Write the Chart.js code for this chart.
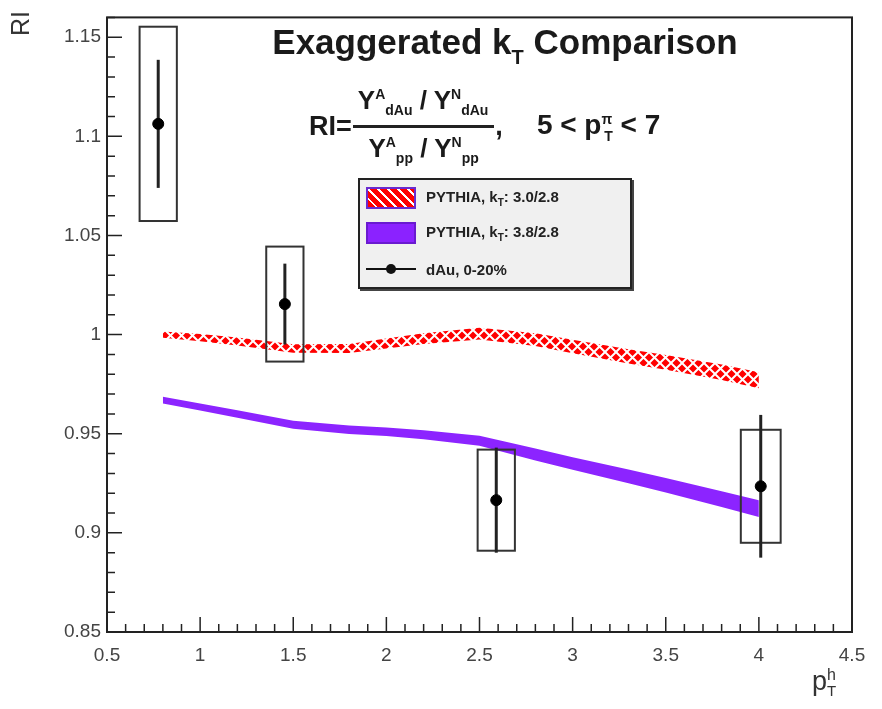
<!DOCTYPE html>
<html lang="en">

<head>
    <meta charset="UTF-8">
    <title>Exaggerated kT Comparison</title>
    <script src="https://cdn.jsdelivr.net/npm/chart.js"></script>
    <style>
        body { margin: 0; background: #fff; }
        #wrap { position: relative; width: 882px; height: 709px; font-family: "Liberation Sans", Arial, sans-serif; color: #111; }
        #myChart { position: absolute; left: 0; top: 0; }
        .txt { position: absolute; white-space: nowrap; }
        #title { left: 505px; top: 22px; transform: translateX(-50%); font-weight: bold; font-size: 35px; color: #1a1a1a; }
        #title sub { font-size: 20px; vertical-align: -10px; }
        #formula { left: 309px; top: 80px; font-weight: bold; font-size: 27px; display: flex; align-items: center; color: #1a1a1a; }
        .frac { display: inline-flex; flex-direction: column; align-items: center; margin: 0 1px; }
        .frac .num { border-bottom: 3px solid #222; padding: 0 6px 0 5px; }
        .frac span { font-size: 26px; line-height: 29px; }
        .frac sup, .frac sub, #formula sup, #formula sub { font-size: 14px; }
        #range { margin-left: 34px; font-size: 28px; }
        #legend { left: 358px; top: 178px; width: 270px; height: 107px; background: #f0f0f0; border: 2px solid #222; box-shadow: 2px 2px 0 #444; }
        .row { position: absolute; left: 6px; display: flex; align-items: center; font-size: 15px; font-weight: bold; color: #222; }
        .row sub { font-size: 10px; }
        .sym { width: 50px; height: 22px; margin-right: 10px; box-sizing: border-box; flex: none; }
        #symRed { background-color: #fff; background-image: repeating-linear-gradient(45deg, #f00 0 5px, #fff 5px 7px), repeating-linear-gradient(-45deg, rgba(255,0,0,0.7) 0 5px, transparent 5px 7px); border: 2px solid #6a2bd0; }
        #symPur { background: #8b22ff; border: 2px solid #6a1ad0; }
        #symPt { position: relative; height: 22px; }
        #symPt::before { content: ""; position: absolute; left: 0; right: 0; top: 10px; height: 2px; background: #111; }
        #symPt::after { content: ""; position: absolute; left: 20px; top: 6px; width: 10px; height: 10px; border-radius: 50%; background: #111; }
        #ytitle { left: 6px; top: 36px; transform: rotate(-90deg); transform-origin: left top; font-size: 25px; color: #333; }
        #xtitle { left: 812px; top: 666px; font-size: 27px; color: #333; }
        #xtitle sup { font-size: 16px; }
        #xtitle sub { font-size: 15px; }
    </style>
</head>

<body>
    <div id="wrap">
        <canvas id="myChart" width="882" height="709"></canvas>
        <div class="txt" id="title">Exaggerated k<sub>T</sub> Comparison</div>
        <div class="txt" id="formula">
            <span>RI=</span>
            <span class="frac">
                <span class="num">Y<sup>A</sup><sub>dAu</sub> / Y<sup>N</sup><sub>dAu</sub></span>
                <span>Y<sup>A</sup><sub>pp</sub> / Y<sup>N</sup><sub>pp</sub></span>
            </span>
            <span>,</span>
            <span id="range">5 &lt; p<sup>&pi;</sup><sub style="margin-left:-8px">T</sub> &lt; 7</span>
        </div>
        <div class="txt" id="legend">
            <div class="row" style="top:7px"><div class="sym" id="symRed"></div><span>PYTHIA, k<sub>T</sub>: 3.0/2.8</span></div>
            <div class="row" style="top:42px"><div class="sym" id="symPur"></div><span>PYTHIA, k<sub>T</sub>: 3.8/2.8</span></div>
            <div class="row" style="top:78px"><div class="sym" id="symPt"></div><span>dAu, 0-20%</span></div>
        </div>
        <div class="txt" id="ytitle">RI</div>
        <div class="txt" id="xtitle">p<sup>h</sup><sub style="margin-left:-9px">T</sub></div>
    </div>

    <script>
        // tick labels
        const xTicks = [0.5, 1, 1.5, 2, 2.5, 3, 3.5, 4, 4.5];
        const yTicks = [0.85, 0.9, 0.95, 1, 1.05, 1.1, 1.15];

        // PYTHIA bands (center and half width)
        const bandX = [0.8, 1.0, 1.2, 1.5, 1.8, 2.0, 2.2, 2.5, 2.8, 3.0, 3.3, 3.5, 3.8, 4.0];
        const redMid = [1.000, 0.9985, 0.9965, 0.993, 0.993, 0.9955, 0.998, 1.0005, 0.9975, 0.994, 0.989, 0.986, 0.981, 0.977];
        const redHalf = [0.0016, 0.0018, 0.002, 0.0021, 0.0023, 0.0025, 0.0027, 0.003, 0.0032, 0.0034, 0.0036, 0.0037, 0.0039, 0.004];
        const purMid = [0.967, 0.9635, 0.960, 0.9545, 0.952, 0.951, 0.9495, 0.9465, 0.9395, 0.935, 0.9285, 0.924, 0.917, 0.9122];
        const purHalf = [0.0017, 0.0018, 0.0019, 0.002, 0.0021, 0.0022, 0.0023, 0.0025, 0.003, 0.0032, 0.0035, 0.0037, 0.004, 0.0042];

        // dAu 0-20% points
        const ptX = [0.775, 1.455, 2.59, 4.01];
        const ptY = [1.1063, 1.0154, 0.9165, 0.9235];
        const statErr = [0.0323, 0.0204, 0.0265, 0.036];
        const sysErr = [0.049, 0.029, 0.0255, 0.0285];
        const sysDx = [0.1, 0.1, 0.1, 0.107];

        function makePattern() {
            const c = document.createElement('canvas');
            c.width = 11; c.height = 11;
            const g = c.getContext('2d');
            g.fillStyle = '#ff0000';
            g.fillRect(0, 0, 11, 11);
            g.strokeStyle = '#ffffff';
            g.lineWidth = 2;
            g.beginPath();
            g.moveTo(-1, -1); g.lineTo(12, 12);
            g.moveTo(12, -1); g.lineTo(-1, 12);
            g.stroke();
            return g.createPattern(c, 'repeat');
        }

        const pts = (xs, ys) => xs.map((x, i) => ({ x: x, y: ys[i] }));
        const redLo = pts(bandX, redMid.map((v, i) => v - redHalf[i]));
        const redHi = pts(bandX, redMid.map((v, i) => v + redHalf[i]));
        const purLo = pts(bandX, purMid.map((v, i) => v - purHalf[i]));
        const purHi = pts(bandX, purMid.map((v, i) => v + purHalf[i]));
        const fmt = v => String(+v.toFixed(2));

        // boxes + error bars under the markers, then ROOT-like frame with inside ticks
        const rootPlugin = {
            id: 'rootStyle',
            beforeDatasetDraw(chart, args) {
                if (args.index !== 0) return;
                const ctx = chart.ctx, x = chart.scales.x, y = chart.scales.y;
                ctx.save();
                ctx.strokeStyle = '#333';
                ctx.lineWidth = 2;
                for (let i = 0; i < ptX.length; i++) {
                    const l = x.getPixelForValue(ptX[i] - sysDx[i]);
                    const r = x.getPixelForValue(ptX[i] + sysDx[i]);
                    const t = y.getPixelForValue(ptY[i] + sysErr[i]);
                    const b = y.getPixelForValue(ptY[i] - sysErr[i]);
                    ctx.strokeRect(l, t, r - l, b - t);
                }
                ctx.strokeStyle = '#222';
                ctx.lineWidth = 3;
                for (let i = 0; i < ptX.length; i++) {
                    const px = x.getPixelForValue(ptX[i]);
                    ctx.beginPath();
                    ctx.moveTo(px, y.getPixelForValue(ptY[i] + statErr[i]));
                    ctx.lineTo(px, y.getPixelForValue(ptY[i] - statErr[i]));
                    ctx.stroke();
                }
                ctx.restore();
            },
            afterDraw(chart) {
                const ctx = chart.ctx, a = chart.chartArea, x = chart.scales.x, y = chart.scales.y;
                ctx.save();
                ctx.strokeStyle = '#222';
                ctx.lineWidth = 2;
                ctx.strokeRect(a.left, a.top, a.right - a.left, a.bottom - a.top);
                ctx.lineWidth = 1.5;
                ctx.beginPath();
                for (let v = 5; v <= 45; v++) {
                    const px = x.getPixelForValue(v / 10);
                    const len = v % 5 === 0 ? 15 : 8;
                    ctx.moveTo(px, a.bottom); ctx.lineTo(px, a.bottom - len);
                }
                for (let v = 85; v <= 116; v++) {
                    const py = y.getPixelForValue(v / 100);
                    const len = v % 5 === 0 ? 15 : 8;
                    ctx.moveTo(a.left, py); ctx.lineTo(a.left + len, py);
                }
                ctx.stroke();
                ctx.restore();
            }
        };

        const ctx = document.getElementById('myChart').getContext('2d');
        const myChart = new Chart(ctx, {
            type: 'line',
            data: {
                datasets: [{
                    label: 'dAu, 0-20%',
                    data: pts(ptX, ptY),
                    showLine: false,
                    pointRadius: 5.5,
                    pointBackgroundColor: '#000',
                    pointBorderColor: '#000'
                }, {
                    label: 'red low',
                    data: redLo,
                    borderWidth: 0,
                    pointRadius: 0,
                    fill: false
                }, {
                    label: 'PYTHIA, kT: 3.0/2.8',
                    data: redHi,
                    borderWidth: 0,
                    pointRadius: 0,
                    fill: '-1',
                    backgroundColor: makePattern()
                }, {
                    label: 'purple low',
                    data: purLo,
                    borderWidth: 0,
                    pointRadius: 0,
                    fill: false
                }, {
                    label: 'PYTHIA, kT: 3.8/2.8',
                    data: purHi,
                    borderWidth: 0,
                    pointRadius: 0,
                    fill: '-1',
                    backgroundColor: 'rgb(140, 36, 255)'
                }]
            },
            options: {
                responsive: false,
                animation: false,
                layout: { padding: { left: 0, top: 8, right: 30, bottom: 0 } },
                plugins: { legend: { display: false }, tooltip: { enabled: false } },
                scales: {
                    x: {
                        type: 'linear',
                        min: 0.5,
                        max: 4.5,
                        afterBuildTicks: s => { s.ticks = xTicks.map(v => ({ value: v })); },
                        afterFit: s => { s.height = 77; },
                        grid: { display: false, drawTicks: false },
                        border: { display: false },
                        ticks: { padding: 12, color: '#444', font: { family: 'Liberation Sans', size: 19 }, maxRotation: 0, callback: fmt }
                    },
                    y: {
                        type: 'linear',
                        min: 0.85,
                        max: 1.16,
                        afterBuildTicks: s => { s.ticks = yTicks.map(v => ({ value: v })); },
                        afterFit: s => { s.width = 107; },
                        grid: { display: false, drawTicks: false },
                        border: { display: false },
                        ticks: { padding: 6, color: '#444', font: { family: 'Liberation Sans', size: 19 }, callback: fmt }
                    }
                }
            },
            plugins: [rootPlugin]
        });
    </script>
</body>

</html>
